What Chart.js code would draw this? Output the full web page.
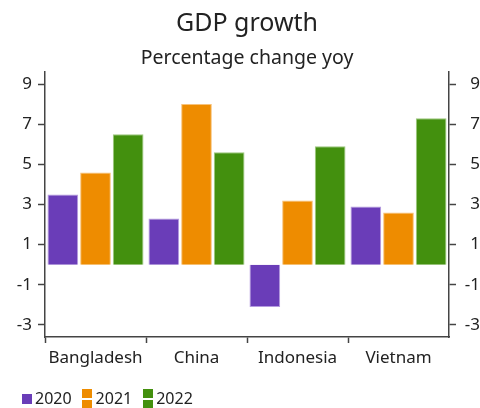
<!DOCTYPE html>
<html lang="en">
<head>
    <meta charset="UTF-8">
    <title>GDP growth</title>
    <script src="https://cdn.jsdelivr.net/npm/chart.js"></script>
    <style>
        html, body { margin: 0; padding: 0; background: #fff; }
        #wrap { width: 480px; height: 408px; }
    </style>
</head>
<body>
    <div id="wrap"><canvas id="gdpChart" width="480" height="408"></canvas></div>

    <script>
        // data
        const countries = ['Bangladesh', 'China', 'Indonesia', 'Vietnam'];
        const years = ['2020', '2021', '2022'];
        const growth2020 = [3.5, 2.3, -2.1, 2.9];
        const growth2021 = [4.6, 8.0, 3.2, 2.6];
        const growth2022 = [6.5, 5.6, 5.9, 7.3];
        const yTicks = [-3, -2, -1, 0, 1, 2, 3, 4, 5, 6, 7, 8, 9];

        const colors = ['#6a3db8', '#ee8c00', '#43900e'];
        const edgeColors = ['#b59be0', '#f7c27a', '#9cc77c'];
        const fontFamily = '"Noto Sans", "DejaVu Sans", sans-serif';
        const textColor = '#222';
        const axisColor = '#444';

        // small legend markers: 2020 is a plain square, the other two are split boxes
        function legendMarker(color, split) {
            const c = document.createElement('canvas');
            c.width = 10;
            c.height = split ? 20 : 10;
            const g = c.getContext('2d');
            g.fillStyle = color;
            g.fillRect(0, 0, c.width, c.height);
            if (split) {
                g.fillStyle = '#fff';
                g.fillRect(0, 9, 10, 2);
            }
            return c;
        }

        function yAxis(position) {
            const left = position === 'left';
            return {
                position: position,
                min: -3.6,
                max: 9.6,
                afterBuildTicks: axis => {
                    axis.ticks = yTicks.map(v => ({ value: v }));
                },
                afterFit: axis => {
                    axis.width = left ? 34 : 31;
                },
                border: { display: true, color: axisColor, width: 1.5 },
                grid: {
                    drawOnChartArea: false,
                    drawTicks: true,
                    tickLength: 7,
                    tickColor: axisColor,
                    tickWidth: 1.5
                },
                ticks: {
                    color: textColor,
                    padding: left ? 6 : 5,
                    crossAlign: left ? 'near' : 'far',
                    font: { family: fontFamily, size: 17 },
                    callback: v => (Math.abs(v % 2) === 1 ? String(v) : '')
                }
            };
        }

        const seriesValues = [growth2020, growth2021, growth2022];
        const datasets = years.map((y, i) => ({
            label: y,
            data: seriesValues[i],
            backgroundColor: colors[i],
            borderColor: edgeColors[i],
            borderWidth: 1,
            barPercentage: 0.94,
            categoryPercentage: 0.97,
            pointStyle: legendMarker(colors[i], i > 0)
        }));

        new Chart(document.getElementById('gdpChart').getContext('2d'), {
            type: 'bar',
            data: { labels: countries, datasets: datasets },
            options: {
                responsive: false,
                animation: false,
                devicePixelRatio: 1,
                layout: { padding: { top: 0, left: 11, right: 0, bottom: -9 } },
                plugins: {
                    title: {
                        display: true,
                        fullSize: false,
                        text: 'GDP growth',
                        color: textColor,
                        font: { family: fontFamily, size: 25, weight: 'normal' },
                        padding: { top: 8.5, bottom: 8.5 }
                    },
                    subtitle: {
                        display: true,
                        fullSize: false,
                        text: 'Percentage change yoy',
                        color: textColor,
                        font: { family: fontFamily, size: 19.5, weight: 'normal' },
                        padding: { top: 0, bottom: 1.6 }
                    },
                    legend: {
                        position: 'bottom',
                        align: 'start',
                        labels: {
                            usePointStyle: true,
                            color: textColor,
                            boxWidth: 1,
                            boxHeight: 10,
                            padding: 15,
                            font: { family: fontFamily, size: 16 }
                        }
                    },
                    tooltip: { enabled: false }
                },
                scales: {
                    x: {
                        afterFit: axis => {
                            axis.height = 39;
                        },
                        border: { display: true, color: axisColor, width: 1.5 },
                        grid: {
                            offset: true,
                            drawOnChartArea: false,
                            drawTicks: true,
                            tickLength: 6,
                            // the closing grid line has no tick context: no mark at the right corner
                            tickColor: ctx => (ctx.type === 'tick' ? axisColor : 'rgba(0,0,0,0)'),
                            tickWidth: 1.5
                        },
                        ticks: {
                            color: textColor,
                            padding: 5,
                            font: { family: fontFamily, size: 17 }
                        }
                    },
                    y: yAxis('left'),
                    y2: yAxis('right')
                }
            }
        });
    </script>
</body>
</html>
